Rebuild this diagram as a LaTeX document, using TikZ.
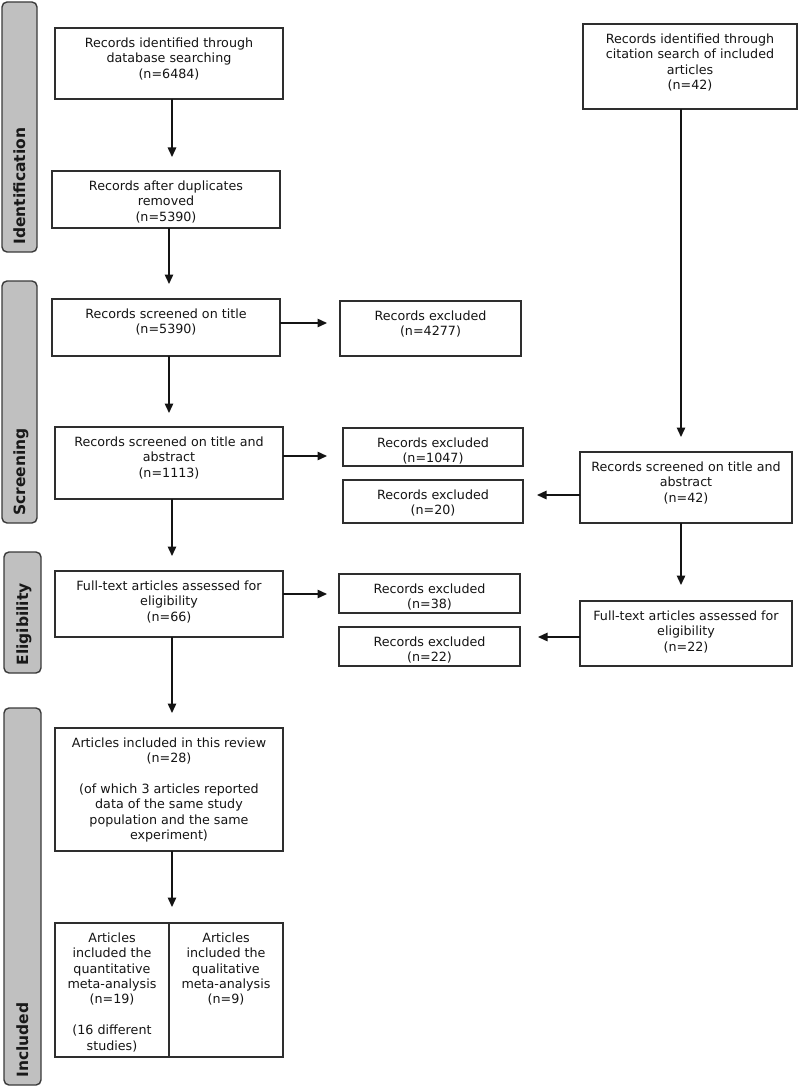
\documentclass[tikz,border=0pt]{standalone}
\usepackage{fontspec}
\setmainfont{DejaVu Sans}
\usetikzlibrary{arrows.meta,fit}
\definecolor{bandfill}{HTML}{C0C0C0}
\definecolor{banddraw}{HTML}{3A3A3A}
\definecolor{boxdraw}{HTML}{2E2E2E}
\begin{document}
\begin{tikzpicture}[x=1pt,y=-1pt,
  box/.style={draw=boxdraw,line width=1.6pt,inner sep=0pt,outer sep=0pt},
  txt/.style={anchor=north,inner sep=0pt,align=center,font=\fontsize{12.7}{15.4}\selectfont,text=black!92},
  band/.style={draw=banddraw,fill=bandfill,line width=1.4pt,rounded corners=5pt,inner sep=0pt},
  bandtxt/.style={rotate=90,anchor=base west,inner sep=0pt,font=\fontsize{15.5}{18}\selectfont\bfseries,text=black!90},
  arr/.style={line width=1.4pt,draw=black!92,-{Triangle[length=9.5pt,width=8.5pt]}},
  ln/.style={line width=1.4pt,draw=black!92}]
\useasboundingbox (0,0) rectangle (798,1086);
% helper
\newcommand{\mkbox}[6]{%
  \coordinate (#1-nw) at (#2,#3);
  \coordinate (#1-se) at (#4,#5);
  \node[box,fit=(#1-nw)(#1-se)] (#1) {};
  \node[txt] (#1-t) at ([yshift=-9.5pt]#1.north) {#6};}
\newcommand{\mkband}[6]{%
  \coordinate (#1-nw) at (#2,#3);
  \coordinate (#1-se) at (#4,#5);
  \node[band,fit=(#1-nw)(#1-se)] (#1) {};
  \node[bandtxt] (#1-t) at ([xshift=5.5pt,yshift=8pt]#1.south) {#6};}
% bands
\mkband{bid}{2}{2}{37}{252}{Identification}
\mkband{bsc}{2}{281}{37}{523}{Screening}
\mkband{bel}{4}{552}{41}{673}{Eligibility}
\mkband{bin}{4}{708}{41}{1085}{Included}
% left column
\mkbox{b1}{55}{28}{283}{99}{Records identified through\\database searching\\(n=6484)}
\mkbox{b2}{52}{171}{280}{228}{Records after duplicates\\removed\\(n=5390)}
\mkbox{b3}{52}{299}{280}{356}{Records screened on title\\(n=5390)}
\mkbox{b4}{55}{427}{283}{499}{Records screened on title and\\abstract\\(n=1113)}
\mkbox{b5}{55}{571}{283}{637}{Full-text articles assessed for\\eligibility\\(n=66)}
\mkbox{b6}{55}{728}{283}{851}{Articles included in this review\\(n=28)\\[15.4pt](of which 3 articles reported\\data of the same study\\population and the same\\experiment)}
\mkbox{b7a}{55}{923}{169}{1057}{Articles\\included the\\quantitative\\meta-analysis\\(n=19)\\[15.4pt](16 different\\studies)}
\mkbox{b7b}{169}{923}{283}{1057}{Articles\\included the\\qualitative\\meta-analysis\\(n=9)}
% excluded column
\mkbox{e1}{340}{301}{521}{356}{Records excluded\\(n=4277)}
\mkbox{e2}{343}{428}{523}{466}{Records excluded\\(n=1047)}
\mkbox{e3}{343}{480}{523}{523}{Records excluded\\(n=20)}
\mkbox{e4}{339}{574}{520}{613}{Records excluded\\(n=38)}
\mkbox{e5}{339}{627}{520}{666}{Records excluded\\(n=22)}
% right column
\mkbox{r1}{583}{24}{797}{109}{Records identified through\\citation search of included\\articles\\(n=42)}
\mkbox{r2}{580}{452}{792}{523}{Records screened on title and\\abstract\\(n=42)}
\mkbox{r3}{580}{601}{792}{666}{Full-text articles assessed for\\eligibility\\(n=22)}
% arrow tips
\coordinate (t1) at (172,157);
\coordinate (t2) at (169,284);
\coordinate (t3) at (169,413);
\coordinate (t4) at (172,556);
\coordinate (t5) at (172,713);
\coordinate (t6) at (172,907);
\coordinate (h1) at (327,323);
\coordinate (h2) at (327,456);
\coordinate (h3) at (327,594);
\coordinate (rv1) at (681,437);
\coordinate (rv2) at (681,585);
\coordinate (rh1) at (537,495);
\coordinate (rh2) at (538,637);
% vertical arrows
\draw[arr] (t1 |- b1.south) -- (t1);
\draw[arr] (t2 |- b2.south) -- (t2);
\draw[arr] (t3 |- b3.south) -- (t3);
\draw[arr] (t4 |- b4.south) -- (t4);
\draw[arr] (t5 |- b5.south) -- (t5);
\draw[arr] (t6 |- b6.south) -- (t6);
% horizontal arrows
\draw[arr] (h1 -| b3.east) -- (h1);
\draw[arr] (h2 -| b4.east) -- (h2);
\draw[arr] (h3 -| b5.east) -- (h3);
% right column
\draw[arr] (rv1 |- r1.south) -- (rv1);
\draw[arr] (rv2 |- r2.south) -- (rv2);
\draw[arr] (rh1 -| r2.west) -- (rh1);
\draw[arr] (rh2 -| r3.west) -- (rh2);
\end{tikzpicture}
\end{document}
